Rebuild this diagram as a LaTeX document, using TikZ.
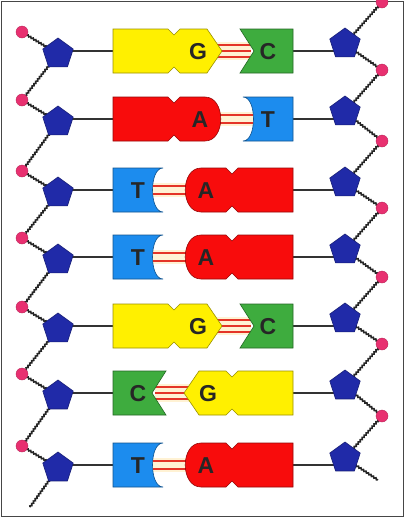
\documentclass[tikz,border=0pt]{standalone}
\usepackage{fontspec}
\setsansfont{Liberation Sans}
\usetikzlibrary{shapes.geometric,backgrounds,decorations.pathmorphing}

\definecolor{baseY}{RGB}{255,240,0}
\definecolor{baseR}{RGB}{248,12,12}
\definecolor{baseB}{RGB}{28,140,238}
\definecolor{baseG}{RGB}{62,172,62}
\definecolor{sugar}{RGB}{32,42,168}
\definecolor{phos}{RGB}{232,48,112}
\definecolor{bond}{RGB}{228,52,40}
\definecolor{bondgap}{RGB}{255,242,212}
\definecolor{frame}{RGB}{70,70,70}

\tikzset{
  letter/.style={font=\sffamily\bfseries\fontsize{23}{23}\selectfont, text=black!85, inner sep=0pt},
  purY/.style={fill=baseY, draw=baseY!60!black, line width=0.6pt},
  pyrG/.style={fill=baseG, draw=baseG!60!black, line width=0.6pt},
  purR/.style={fill=baseR, draw=baseR!60!black, line width=0.6pt},
  pyrB/.style={fill=baseB, draw=baseB!60!black, line width=0.6pt},
  hbond/.style={bond, line width=2.2pt},
  sugarnode/.style={regular polygon, regular polygon sides=5, minimum size=32pt,
    inner sep=0pt, fill=sugar, draw=sugar!70!black, line width=0.6pt},
  phosnode/.style={circle, minimum size=12pt, inner sep=0pt, fill=phos, draw=phos!80!black, line width=0.4pt},
  chain/.style={draw=black!85, line width=1.6pt, decorate,
    decoration={zigzag, amplitude=0.7pt, segment length=3pt}},
  link/.style={draw=black!80, line width=1.1pt},
  % guanine (left) paired with cytosine (right), three hydrogen bonds
  gc/.pic={
    \fill[bondgap] (4,-9) rectangle (48,9);
    \foreach \d in {-6,0,6} \draw[hbond] (4,\d) -- (48,\d);
    \draw[purY] (-90,-22) -- (-35,-22) -- (-29,-16) -- (-23,-22) -- (4,-22) -- (19,0)
      -- (4,22) -- (-23,22) -- (-29,16) -- (-35,22) -- (-90,22) -- cycle;
    \draw[pyrG] (37,-22) -- (90,-22) -- (90,22) -- (37,22) -- (51,0) -- cycle;
    \node[letter] (-pu) at (-5,1) {G};
    \node[letter] (-py) at (65,1) {C};
  },
  % adenine (left) paired with thymine (right), two hydrogen bonds
  at/.pic={
    \fill[bondgap] (10,-7) rectangle (50,7);
    \foreach \d in {-4,4} \draw[hbond] (10,\d) -- (50,\d);
    \draw[purR] (-90,-22) -- (-35,-22) -- (-29,-16) -- (-23,-22) -- (2,-22)
      .. controls (23,-22) and (23,22) .. (2,22) -- (-23,22) -- (-29,16) -- (-35,22)
      -- (-90,22) -- cycle;
    \draw[pyrB] (40,-22) -- (90,-22) -- (90,22) -- (40,22)
      .. controls (54,22) and (54,-22) .. (40,-22) -- cycle;
    \node[letter] (-pu) at (-3,1) {A};
    \node[letter] (-py) at (65,1) {T};
  }
}

\begin{document}
\begin{tikzpicture}[x=1pt,y=-1pt]
\useasboundingbox (0,0) rectangle (406,520);
\draw[frame, line width=1.6pt] (1.5,1.5) rectangle (403.5,516.5);

% base pairs, rung by rung (mirrored pairs use xscale=-1)
\pic (r1) at (203,51) {gc};
\pic (r2) at (203,119) {at};
\pic[xscale=-1] (r3) at (203,190) {at};
\pic[xscale=-1] (r4) at (203,257) {at};
\pic (r5) at (203,326) {gc};
\pic[xscale=-1] (r6) at (203,393) {gc};
\pic[xscale=-1] (r7) at (203,465) {at};

% sugars, phosphates and rung ends
\foreach \i/\y in {1/51,2/119,3/190,4/257,5/326,6/393,7/465}{
  \coordinate (bw\i) at (113,\y);
  \coordinate (be\i) at (293,\y);
  \node[sugarnode] (L\i) at (58,\y+3) {};
  \node[phosnode] (PL\i) at (22,\y-19) {};
  \node[sugarnode] (R\i) at (345,\y-7) {};
  \node[phosnode] (PR\i) at (382,\y-49) {};
}
\coordinate (TL) at (30,507);
\coordinate (TR) at (378,480);

% backbones and rung links, under everything else
\begin{scope}[on background layer]
  \fill[white] (3,3) rectangle (402,515);
  \foreach \i in {1,...,7}{
    \draw[chain] (PL\i.center) -- (L\i.center);
    \draw[chain] (PR\i.center) -- (R\i.center);
    \draw[link] (L\i.center |- bw\i) -- (bw\i);
    \draw[link] (be\i) -- (R\i.center |- be\i);
  }
  \foreach \i/\p in {2/1,3/2,4/3,5/4,6/5,7/6}{
    \draw[chain] (L\p.center) -- (PL\i.center);
    \draw[chain] (R\p.center) -- (PR\i.center);
  }
  \draw[chain] (L7.center) -- (TL);
  \draw[chain] (R7.center) -- (TR);
\end{scope}
\end{tikzpicture}
\end{document}
